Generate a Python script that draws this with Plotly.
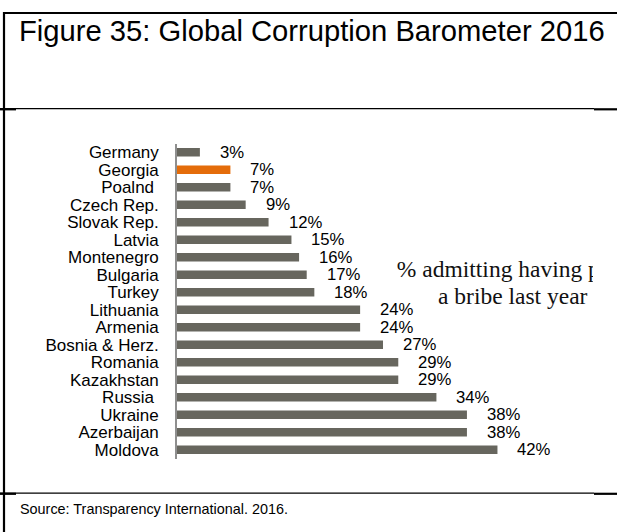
import plotly.graph_objects as go

W, H = 617, 532

# Share of people who admit having paid a bribe in the last year (%)
countries = ["Germany", "Georgia", "Poalnd ", "Czech Rep.", "Slovak Rep.", "Latvia",
             "Montenegro", "Bulgaria", "Turkey", "Lithuania", "Armenia",
             "Bosnia & Herz.", "Romania", "Kazakhstan", "Russia ", "Ukraine",
             "Azerbaijan", "Moldova"]
bribe_pct = [3, 7, 7, 9, 12, 15, 16, 17, 18, 24, 24, 27, 29, 29, 34, 38, 38, 42]
highlight = "Georgia"

title_text = "Figure 35: Global Corruption Barometer 2016"
note_lines = ["% admitting having paid", "a bribe last year"]
source_text = "Source: Transparency International. 2016."

GREY = "#67665e"
ORANGE = "#e46c0a"
SANS = "Liberation Sans, Arial, sans-serif"
SERIF = "Liberation Serif, Times New Roman, serif"


def px_x(p):
    return p / W


def px_y(p):
    return 1 - p / H


positions = list(range(len(countries)))
colors = [ORANGE if c == highlight else GREY for c in countries]
# SVG drops trailing blanks, so keep them as non-breaking spaces
tick_text = [c.rstrip() + ("\u00a0" if c.endswith(" ") else "") for c in countries]

fig = go.Figure()
fig.add_trace(go.Bar(
    x=bribe_pct, y=positions, orientation="h",
    marker=dict(color=colors, line=dict(width=0)),
    width=0.48, hoverinfo="skip", showlegend=False,
))

# Two-line caption inside the plot area, clipped at its right edge
fig.add_trace(go.Scatter(
    x=[44.0, 44.0], y=[6.78, 8.32], mode="text", text=note_lines,
    textposition="middle center", cliponaxis=True,
    textfont=dict(family=SERIF, size=23.5, color="#111111"),
    hoverinfo="skip", showlegend=False,
))

annotations = []
for v, p in zip(bribe_pct, positions):
    annotations.append(dict(
        x=v, y=p, xref="x", yref="y", text=f"{v}%", showarrow=False,
        xanchor="left", yanchor="middle", xshift=18, yshift=0,
        font=dict(family=SANS, size=16.7, color="#000000"),
    ))

annotations.append(dict(
    x=px_x(17), y=px_y(31), xref="paper", yref="paper", text=title_text,
    showarrow=False, xanchor="left", yanchor="middle",
    font=dict(family=SANS, size=29.2, color="#000000"),
))
annotations.append(dict(
    x=px_x(18), y=px_y(509), xref="paper", yref="paper", text=source_text,
    showarrow=False, xanchor="left", yanchor="middle",
    font=dict(family=SANS, size=14.4, color="#000000"),
))

# Table-style frame lines around the figure block
line_specs = [
    (3, 13, W, 13, 2.2),        # top rule
    (4, 12, 4, H, 2.2),         # left rule
    (0, 108.6, 594, 108.6, 1.3),
    (0, 109.3, 16, 109.3, 2.2),
    (594, 109.3, W, 109.3, 2.2),
    (0, 493.2, 594, 493.2, 1.3),
    (0, 493.8, 16, 493.8, 2.2),
    (594, 493.8, W, 493.8, 2.2),
]
shapes = [
    dict(type="line", xref="paper", yref="paper",
         x0=px_x(a), y0=px_y(b), x1=px_x(c), y1=px_y(d),
         line=dict(color="#000000", width=w))
    for a, b, c, d, w in line_specs
]

x_left, x_right = 177, 593
px_per_pct = 7.63

fig.update_layout(
    width=W, height=H,
    margin=dict(l=0, r=0, t=0, b=0),
    paper_bgcolor="white", plot_bgcolor="white",
    bargap=0.5,
    xaxis=dict(domain=[px_x(x_left), px_x(x_right)],
               range=[0, (x_right - x_left) / px_per_pct],
               visible=False, fixedrange=True),
    yaxis=dict(domain=[px_y(458.5), px_y(143.5)],
               range=[len(countries) - 0.5, -0.5],
               tickmode="array", tickvals=positions, ticktext=tick_text,
               ticks="", showgrid=False, zeroline=False,
               showline=True, linecolor="#8f8f8f", linewidth=1.6,
               ticklabelstandoff=13,
               tickfont=dict(family=SANS, size=17, color="#000000"),
               fixedrange=True),
    annotations=annotations,
    shapes=shapes,
)

fig.write_html("out.html")
